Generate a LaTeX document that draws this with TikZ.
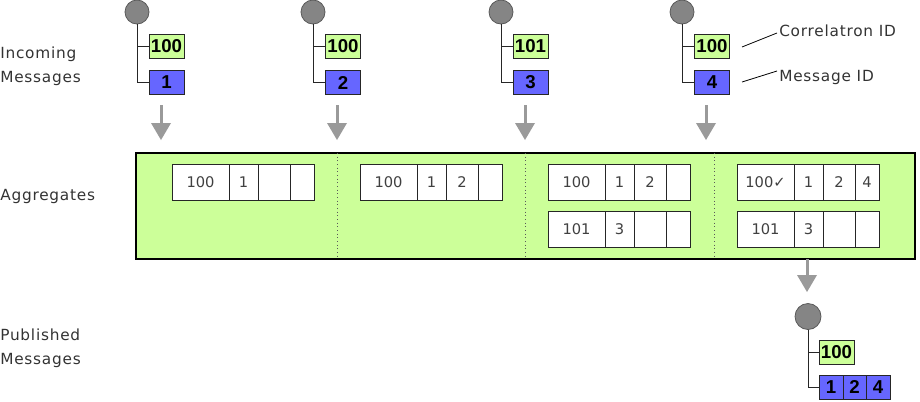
\documentclass[tikz,border=0pt]{standalone}
\usepackage{fontspec}
\setmainfont{DejaVu Sans}
\newfontfamily\msgfont{Liberation Sans}
\newfontfamily\lblfont{DejaVu Sans}[LetterSpace=5]
\definecolor{agggreen}{HTML}{CCFF99}
\definecolor{corrgreen}{HTML}{CCFF99}
\definecolor{idblue}{HTML}{6666FF}
\definecolor{arrowgrey}{HTML}{9A9A9A}
\definecolor{circgrey}{HTML}{858585}
\tikzset{
  circ/.style={circle, draw=black!65, fill=circgrey, minimum size=18pt, inner sep=0, line width=0.6pt},
  corr/.style={draw=black!85, fill=corrgreen, minimum width=26.25pt, minimum height=18pt, inner sep=0, outer sep=0,
    font=\msgfont\bfseries\fontsize{14}{14}\selectfont, line width=0.75pt},
  idbox/.style={corr, fill=idblue},
  tree/.style={draw=black!85, line width=0.75pt},
  cell/.style={draw=black!85, fill=white, minimum height=27pt, inner sep=0, outer sep=0,
    font=\fontsize{11}{11}\selectfont, text=black!75, line width=0.75pt},
  lbl/.style={font=\lblfont\fontsize{11.5}{18}\selectfont, text=black!80, align=left, anchor=west, inner sep=0},
  note/.style={font=\lblfont\fontsize{11.5}{18}\selectfont, text=black!80, anchor=west, inner sep=0},
  aggframe/.style={draw=black, line width=1.5pt, fill=agggreen, inner sep=0, anchor=north west},
  arrowstem/.style={draw=arrowgrey, line width=2.25pt},
  divider/.style={draw=black!65, dotted, line width=0.75pt},
  pointer/.style={draw=black, line width=0.6pt}
}
\newcommand\msgtree[5]{%
  \node[circ] (#1c) at (#2,12) {};
  \node[corr] (#1k) at (#3,46) {#4};
  \node[idbox] (#1i) at (#3,82.5) {#5};
  \draw[tree] (#1c.south) |- (#1k.west);
  \draw[tree] (#1c.south) |- (#1i.west);
}
\newcommand\aggrow[7]{%
  \node[cell, minimum width=42.75pt, anchor=west] (#1a) at (#2,#3) {#4};
  \node[cell, minimum width=21.75pt, anchor=west] (#1b) at (#1a.east) {#5};
  \node[cell, minimum width=24pt, anchor=west] (#1c) at (#1b.east) {#6};
  \node[cell, minimum width=18pt, anchor=west] (#1d) at (#1c.east) {#7};
}
\newcommand\greyarrow[4]{%
  \coordinate (#1) at (#2,#3);
  \draw[arrowstem] (#1) -- ++(0,#4);
  \fill[arrowgrey] (#1) ++(-10,#4) -- ++(20,0) -- ++(-10,17) -- cycle;
}
\begin{document}
\begin{tikzpicture}[x=0.75pt,y=-0.75pt]
\useasboundingbox (0,0) rectangle (920,401);

% left labels
\node[lbl] (lin) at (0,66.5) {Incoming\\Messages};
\node[lbl] (lagg) at (0,196) {Aggregates};
\node[lbl] (lpub) at (0,348.5) {Published\\Messages};

% incoming messages
\msgtree{m1}{137}{166.5}{100}{1}
\msgtree{m2}{313}{343}{100}{2}
\msgtree{m3}{501}{530.5}{101}{3}
\msgtree{m4}{682}{712}{100}{4}

% annotations
\node[note] (lc) at (779,31) {Correlatron ID};
\node[note] (lm) at (779,77) {Message ID};
\coordinate (pc1) at (742,47);
\coordinate (pm1) at (742,82);
\draw[pointer] (pc1) -- ([xshift=-1.5pt,yshift=-1.5pt]lc.west);
\draw[pointer] (pm1) -- ([xshift=-1.5pt,yshift=4.5pt]lm.west);

% arrows into aggregates
\greyarrow{a1}{161}{105}{18}
\greyarrow{a2}{337}{105}{18}
\greyarrow{a3}{525}{105}{18}
\greyarrow{a4}{706}{105}{18}

% aggregate frame
\node[aggframe, minimum width=584.25pt, minimum height=79.5pt] (agg) at (135,152) {};
\draw[divider] (337,153) -- (337,257);
\draw[divider] (525,153) -- (525,257);
\draw[divider] (714,153) -- (714,257);

\aggrow{sa}{172}{182}{100}{1}{}{}
\aggrow{sb}{360}{182}{100}{1}{2}{}
\aggrow{sc}{548}{182}{100}{1}{2}{}
\aggrow{sd}{548}{229.5}{101}{3}{}{}
\aggrow{se}{737}{182}{100✓}{1}{2}{4}
\aggrow{sf}{737}{229.5}{101}{3}{}{}

% published
\greyarrow{a5}{807}{259}{16}
\node[circ, minimum size=19.5pt] (pc) at (808,316.5) {};
\node[corr] (pk) at (836.5,352.5) {100};
\node[idbox, minimum width=18pt, anchor=west] (pi1) at (819,387) {1};
\node[idbox, minimum width=17.25pt, anchor=west] (pi2) at (pi1.east) {2};
\node[idbox, minimum width=18pt, anchor=west] (pi3) at (pi2.east) {4};
\draw[tree] (pc.south) |- (pk.west);
\draw[tree] (pc.south) |- (pi1.west);
\end{tikzpicture}
\end{document}
